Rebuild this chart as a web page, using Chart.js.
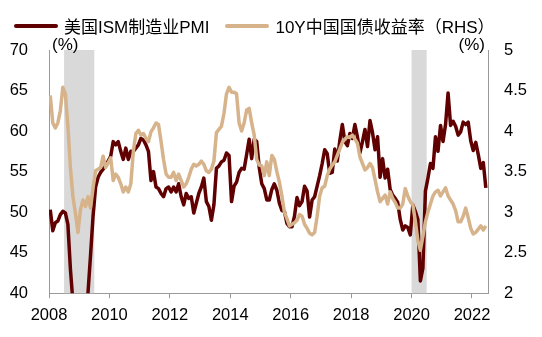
<!DOCTYPE html>
<html>
<head>
<meta charset="utf-8">
<script src="https://cdn.jsdelivr.net/npm/chart.js@4.4.1/dist/chart.umd.min.js"></script>
<style>
  html, body { margin: 0; padding: 0; background: #fff; }
  #wrap { position: relative; width: 542px; height: 337px; }
  #legend {
    position: absolute; left: 14px; top: 13px;
    display: flex; align-items: center; white-space: nowrap;
    font: 17px "Liberation Sans", "Noto Sans CJK SC", sans-serif; color: #000;
  }
  .item { display: flex; align-items: center; margin-right: 16px; }
  .swatch { width: 44px; height: 4px; border-radius: 2px; margin-right: 6px; }
</style>
</head>
<body>
<div id="wrap">
  <canvas id="myChart" width="542" height="337"></canvas>
  <div id="legend"></div>
</div>
<script>
// series labels
const seriesNames = ['美国ISM制造业PMI', '10Y中国国债收益率（RHS）'];
const startYear = 2008;

// US ISM manufacturing PMI, monthly from Jan 2008 to Jun 2022
const pmi = [
  50.3, 47.7, 48.7, 48.9, 49.7, 50.1, 49.9, 48.5, 43.0, 38.9, 36.6, 33.1,
  35.5, 36.3, 36.3, 40.1, 44.7, 49.5, 53.1, 54.3, 54.9, 55.3, 55.7, 56.3,
  56.9, 58.7, 58.3, 58.7, 57.5, 56.5, 57.9, 56.5, 57.5, 57.5, 57.9, 58.3,
  59.1, 58.9, 58.3, 57.5, 53.9, 55.0, 53.1, 52.9, 52.3, 51.9, 52.9, 53.1,
  52.5, 53.1, 52.5, 53.5, 51.9, 50.9, 52.3, 51.7, 51.9, 49.9, 51.1, 52.3,
  53.1, 54.2, 51.3, 50.7, 49.0, 50.9, 55.4, 55.7, 56.2, 56.4, 57.3, 57.0,
  51.3, 53.2, 53.7, 54.9, 55.4, 55.3, 57.1, 59.0, 56.6, 59.0, 58.7, 55.5,
  53.5, 52.9, 51.5, 51.5, 52.8, 53.5, 52.7, 51.1, 50.2, 50.1, 48.6, 48.2,
  48.2, 49.5, 51.8, 50.8, 51.3, 53.2, 52.6, 49.4, 51.5, 51.9, 53.2, 54.5,
  56.0, 57.7, 57.2, 54.8, 54.9, 57.8, 56.3, 58.8, 60.8, 58.7, 58.2, 59.7,
  59.1, 60.8, 59.3, 57.3, 58.7, 60.2, 58.1, 61.3, 59.8, 57.7, 59.3, 54.3,
  56.6, 54.2, 55.3, 52.8, 52.1, 51.7, 51.2, 49.1, 47.8, 48.3, 48.1, 47.2,
  50.9, 50.1, 49.1, 41.5, 43.1, 52.6, 54.2, 56.0, 55.4, 59.3, 57.5, 60.7,
  58.7, 60.8, 64.7, 60.7, 61.2, 60.6, 59.5, 59.9, 61.1, 60.8, 61.1, 58.8,
  57.6, 58.6, 57.1, 55.4, 56.1, 53.0
];

// China 10Y government bond yield, monthly from Jan 2008 to Jun 2022
const cnYield = [
  4.44, 4.10, 4.04, 4.10, 4.25, 4.54, 4.46, 4.06, 3.55, 3.19, 2.99, 2.75,
  3.03, 3.15, 3.07, 3.19, 3.05, 3.30, 3.51, 3.53, 3.55, 3.69, 3.55, 3.61,
  3.67, 3.39, 3.47, 3.43, 3.35, 3.25, 3.31, 3.25, 3.35, 3.75, 3.97, 4.01,
  3.95, 3.97, 3.91, 3.87, 3.99, 4.04, 4.10, 4.08, 3.87, 3.65, 3.47, 3.43,
  3.43, 3.49, 3.39, 3.47, 3.39, 3.31, 3.35, 3.43, 3.53, 3.59, 3.57, 3.59,
  3.63, 3.59, 3.51, 3.49, 3.53, 3.63, 3.98, 4.02, 4.06, 4.22, 4.46, 4.54,
  4.48, 4.48, 4.46, 4.10, 4.00, 4.10, 4.26, 4.28, 4.10, 3.95, 3.65, 3.58,
  3.57, 3.45, 3.62, 3.45, 3.70, 3.65, 3.50, 3.37, 3.20, 3.00, 2.92, 2.83,
  2.85, 2.87, 2.90, 2.97, 2.95, 2.85, 2.80, 2.74, 2.72, 2.75, 2.95, 3.20,
  3.30, 3.32, 3.45, 3.53, 3.58, 3.62, 3.70, 3.78, 3.86, 3.90, 3.93, 3.92,
  3.95, 3.90, 3.85, 3.68, 3.60, 3.52, 3.55, 3.60, 3.55, 3.40, 3.25, 3.13,
  3.17, 3.21, 3.10, 3.25, 3.17, 3.12, 3.05, 3.05, 3.10, 3.29, 3.20, 3.13,
  3.09, 2.89, 2.65, 2.53, 2.70, 2.88, 3.00, 3.10, 3.20, 3.25, 3.27, 3.20,
  3.25, 3.30, 3.20, 3.15, 3.10, 3.02, 2.88, 2.88, 2.95, 3.05, 2.93, 2.80,
  2.73, 2.75, 2.79, 2.83, 2.78, 2.83
];

// US recession periods (shaded), in decimal years
const recessions = [[2008.5, 2009.5], [2020.0, 2020.5]];

// tick labels
const xTicks = [2008, 2010, 2012, 2014, 2016, 2018, 2020, 2022];
const unitLabel = '(%)';

const colors = ['#600000', '#d6b38a'];
const font = { family: '"Liberation Sans", "Noto Sans CJK SC", sans-serif', size: 16.5 };

// monthly points placed in the middle of each month
function toPoints(values) {
  return values.map((v, i) => ({ x: startYear + (i + 0.5) / 12, y: v }));
}

// legend (html)
const legendEl = document.getElementById('legend');
seriesNames.forEach((name, i) => {
  const item = document.createElement('div');
  item.className = 'item';
  const sw = document.createElement('div');
  sw.className = 'swatch';
  sw.style.background = colors[i];
  const label = document.createElement('span');
  label.textContent = name;
  item.appendChild(sw);
  item.appendChild(label);
  legendEl.appendChild(item);
});

// shaded bands and unit labels
const extrasPlugin = {
  id: 'extras',
  beforeDatasetsDraw(chart) {
    const { ctx, chartArea: a, scales: { x } } = chart;
    ctx.save();
    ctx.fillStyle = '#d9d9d9';
    recessions.forEach(([s, e]) => {
      const x0 = x.getPixelForValue(s);
      const x1 = x.getPixelForValue(e);
      ctx.fillRect(x0, a.top, x1 - x0, a.bottom - a.top);
    });
    ctx.restore();
  },
  afterDraw(chart) {
    const { ctx, chartArea: a } = chart;
    ctx.save();
    ctx.font = '17px "Liberation Sans", sans-serif';
    ctx.fillStyle = '#000';
    ctx.textBaseline = 'middle';
    ctx.textAlign = 'left';
    ctx.fillText(unitLabel, a.left + 3, a.top - 5);
    ctx.textAlign = 'right';
    ctx.fillText(unitLabel, a.right - 3, a.top - 5);
    ctx.restore();
  }
};

new Chart(document.getElementById('myChart'), {
  type: 'line',
  data: {
    datasets: [
      {
        label: seriesNames[0],
        data: toPoints(pmi),
        yAxisID: 'y',
        borderColor: colors[0],
        borderWidth: 3.5,
        pointRadius: 0,
        tension: 0,
        borderJoinStyle: 'round',
        order: 2
      },
      {
        label: seriesNames[1],
        data: toPoints(cnYield),
        yAxisID: 'y1',
        borderColor: colors[1],
        borderWidth: 3.5,
        pointRadius: 0,
        tension: 0,
        borderJoinStyle: 'round',
        order: 1
      }
    ]
  },
  options: {
    responsive: false,
    animation: false,
    layout: { padding: { top: 50, left: 5, right: 0, bottom: 5 } },
    plugins: { legend: { display: false }, tooltip: { enabled: false } },
    scales: {
      x: {
        type: 'linear',
        min: 2008,
        max: 2022.53,
        afterBuildTicks: s => { s.ticks = xTicks.map(v => ({ value: v })); },
        ticks: { callback: v => String(v), font, color: '#000', padding: 7, maxRotation: 0, autoSkip: false },
        grid: { drawOnChartArea: false, drawTicks: true, tickLength: 5, color: '#999' },
        border: { color: '#999' }
      },
      y: {
        position: 'left',
        min: 40,
        max: 70,
        ticks: { stepSize: 5, font, color: '#000', padding: 21, callback: v => String(v) },
        grid: { display: false, drawTicks: false, tickLength: 0 },
        border: { color: '#999' },
        afterFit: s => { s.width = 44; }
      },
      y1: {
        position: 'right',
        min: 2,
        max: 5,
        ticks: { stepSize: 0.5, font, color: '#000', padding: 16, callback: v => String(v) },
        grid: { display: false, drawTicks: false, tickLength: 0 },
        border: { color: '#999' },
        afterFit: s => { s.width = 54; }
      }
    }
  },
  plugins: [extrasPlugin]
});
</script>
</body>
</html>
